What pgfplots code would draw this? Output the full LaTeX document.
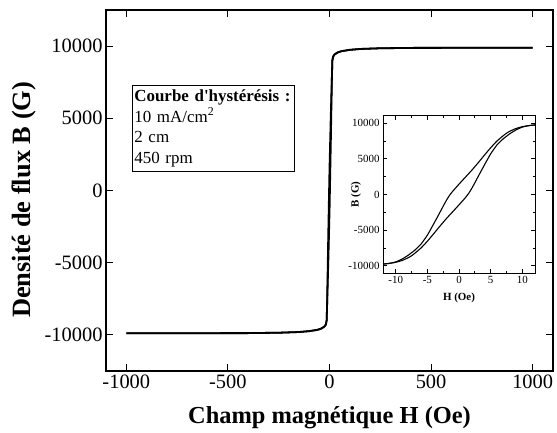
\documentclass[border=0pt]{standalone}
\usepackage{pgfplots}
\pgfplotsset{compat=1.18}
\usepackage{fontspec}
\setmainfont{Liberation Serif}

% main plot: descending branch
\pgfplotstableread{
H B
1000 9880
600 9880
400 9875
250 9850
150 9800
100 9740
60 9650
40 9560
25 9420
18 9280
14 9000
12 8000
6 5000
0 1500
-6 -3000
-12 -8000
-14 -9000
-18 -9280
-25 -9420
-40 -9560
-60 -9650
-100 -9740
-150 -9800
-250 -9850
-400 -9875
-600 -9880
-1000 -9880
}\mainupper

% main plot: ascending branch
\pgfplotstableread{
H B
-1000 -9880
-600 -9880
-400 -9875
-250 -9850
-150 -9800
-100 -9740
-60 -9650
-40 -9560
-25 -9420
-18 -9280
-14 -9000
-12 -8000
-6 -5000
0 -1500
6 3000
12 8000
14 9000
18 9280
25 9420
40 9560
60 9650
100 9740
150 9800
250 9850
400 9875
600 9880
1000 9880
}\mainlower

% inset: ascending branch
\pgfplotstableread{
H B
-12 -9750
-11 -9650
-10 -9500
-9 -9250
-8 -8850
-7.5 -8590
-7 -8250
-6 -7500
-5 -6550
-4 -5500
-3 -4420
-2.5 -3900
-2 -3380
-1 -2420
0 -1450
1 -450
1.5 120
2 830
2.5 1640
3 2480
4 4120
5 5700
6 6950
7 7820
7.5 8160
8 8500
9 9050
10 9450
11 9650
12 9750
}\insetasc

% inset: descending branch
\pgfplotstableread{
H B
12 9750
11 9650
10 9500
9 9250
8 8850
7.5 8590
7 8250
6 7500
5 6550
4 5500
3 4420
2.5 3900
2 3380
1 2420
0 1450
-1 450
-1.5 -120
-2 -830
-2.5 -1640
-3 -2480
-4 -4120
-5 -5700
-6 -6950
-7 -7820
-7.5 -8160
-8 -8500
-9 -9050
-10 -9450
-11 -9650
-12 -9750
}\insetdesc

\begin{document}
\begin{tikzpicture}[x=1bp,y=1bp]
\path[use as bounding box] (0,0) rectangle (557,432);
\begin{axis}[
  at={(106bp,61bp)}, anchor=south west,
  scale only axis, width=447bp, height=361bp,
  xmin=-1100, xmax=1100, ymin=-12500, ymax=12500,
  xtick={-1000,-500,0,500,1000},
  ytick={-10000,-5000,0,5000,10000},
  tick align=inside, major tick length=7bp,
  scaled ticks=false,
  /pgf/number format/1000 sep={},
  /pgf/number format/assume math mode=true,
  tick label style={font=\fontsize{20.5}{22}\selectfont},
  axis line style={line width=1.2bp},
  every tick/.style={line width=1.1bp, black},
  xlabel={Champ magnétique H (Oe)},
  ylabel={Densité de flux B (G)},
  xlabel style={font=\fontsize{24.5}{28}\selectfont\bfseries,
    at={(axis description cs:0.5,0)}, anchor=base, yshift=-52bp},
  ylabel style={font=\fontsize{26.5}{30}\selectfont\bfseries,
    at={(axis description cs:-0.1834,0.474)}, anchor=center},
  clip=false,
]
\addplot[black, line width=1.8bp] table[x=H,y=B] {\mainupper};
\addplot[black, line width=1.8bp] table[x=H,y=B] {\mainlower};
\node[draw, line width=0.9bp, anchor=north west, inner xsep=2bp, inner ysep=4.5bp,
      text width=158bp, align=left, font=\fontsize{17}{20.5}\selectfont]
  at (rel axis cs:0.058,0.792)
  {\textbf{Courbe d\textquotesingle hystérésis :}\\10 mA/cm\textsuperscript{2}\\2 cm\\450 rpm};
\end{axis}

\begin{axis}[
  at={(383bp,159bp)}, anchor=south west,
  scale only axis, width=152bp, height=157bp,
  xmin=-12, xmax=12, ymin=-11000, ymax=11000,
  xtick={-10,-5,0,5,10},
  ytick={-10000,-5000,0,5000,10000},
  minor tick num=1,
  tick align=inside, major tick length=4bp, minor tick length=2.5bp,
  scaled ticks=false,
  /pgf/number format/1000 sep={},
  /pgf/number format/assume math mode=true,
  tick label style={font=\fontsize{11}{12}\selectfont},
  axis line style={line width=1bp},
  every tick/.style={line width=0.8bp, black},
  axis background/.style={fill=white},
  xlabel={H (Oe)},
  ylabel={B (G)},
  label style={font=\fontsize{11}{12}\selectfont\bfseries},
  xlabel style={at={(axis description cs:0.5,0)}, anchor=base, yshift=-27bp},
  ylabel style={at={(axis description cs:-0.178,0.5)}, anchor=center},
]
\addplot[black, line width=1.1bp, smooth, tension=0.3] table[x=H,y=B] {\insetasc};
\addplot[black, line width=1.1bp, smooth, tension=0.3] table[x=H,y=B] {\insetdesc};
\end{axis}
\end{tikzpicture}
\end{document}
